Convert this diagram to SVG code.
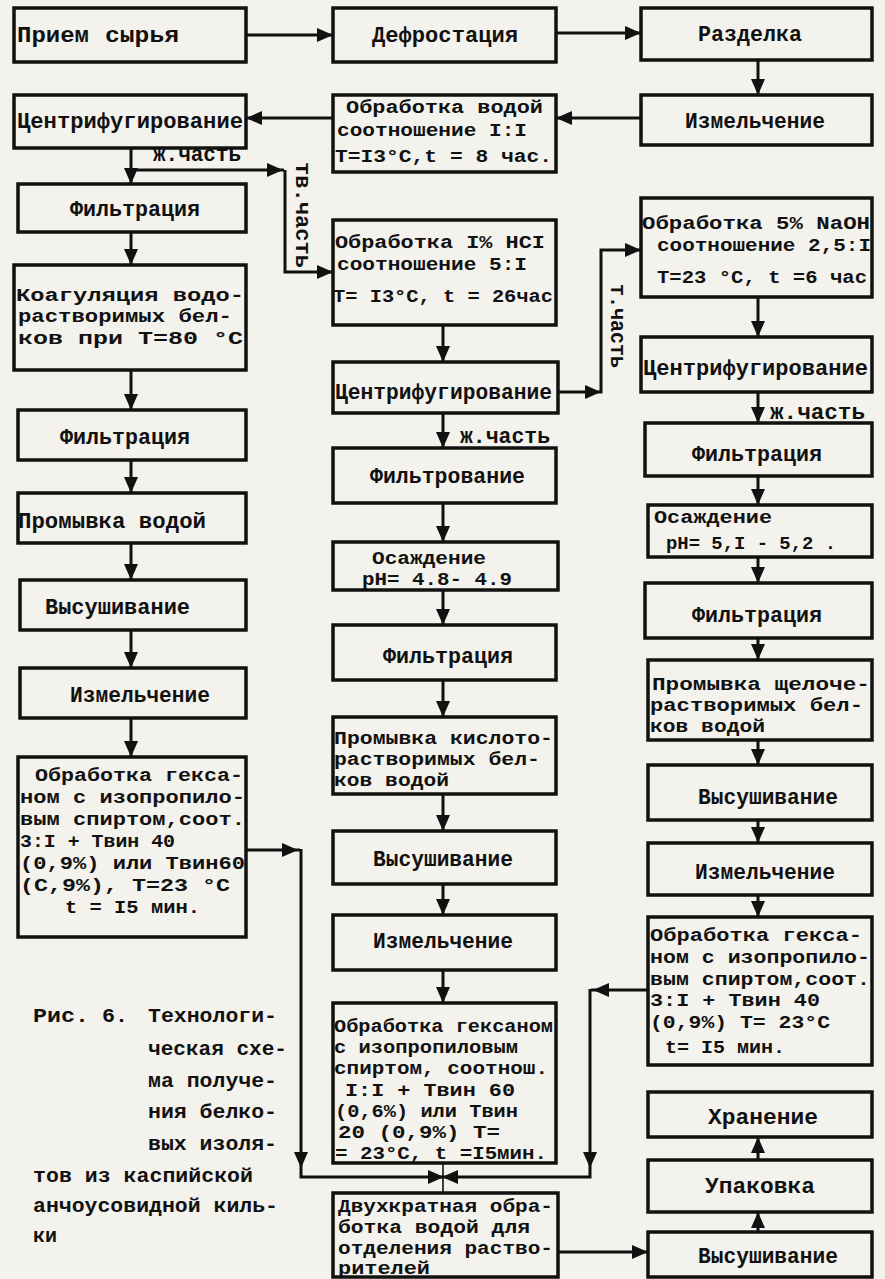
<svg xmlns="http://www.w3.org/2000/svg" xmlns:xlink="http://www.w3.org/1999/xlink" width="885" height="1279" viewBox="0 0 885 1279">
<style>
.bg{fill:#f3f2ed}
.box{fill:#f3f2ed;stroke:#111;stroke-width:3.5}
.ln{fill:none;stroke:#111;stroke-width:3}
.thin{fill:none;stroke:#111;stroke-width:1.6}
.t{font-family:"Liberation Mono","DejaVu Sans Mono",monospace;font-size:22px;font-weight:bold;fill:#111}
.m{font-family:"Liberation Mono","DejaVu Sans Mono",monospace;font-size:19px;font-weight:bold;fill:#111}
.c{font-family:"Liberation Mono","DejaVu Sans Mono",monospace;font-size:21px;font-weight:bold;fill:#111}
</style>
<defs>
<path id="ah" d="M0,0 L-16,-7 L-16,7 Z" fill="#111"/>
</defs>
<rect class="bg" x="0" y="0" width="885" height="1279"/>

<g id="connectors">
<path class="ln" d="M246,35 H333"/><use xlink:href="#ah" transform="translate(333,35)"/>
<path class="ln" d="M556,33 H641"/><use xlink:href="#ah" transform="translate(641,33)"/>
<path class="ln" d="M758,60 V95"/><use xlink:href="#ah" transform="translate(758,95) rotate(90)"/>
<path class="ln" d="M641,118 H556"/><use xlink:href="#ah" transform="translate(556,118) rotate(180)"/>
<path class="ln" d="M333,118 H246"/><use xlink:href="#ah" transform="translate(246,118) rotate(180)"/>
<path class="ln" d="M131,148 V184"/><use xlink:href="#ah" transform="translate(131,184) rotate(90)"/>
<path class="ln" d="M131,170 H284"/><use xlink:href="#ah" transform="translate(283,170)"/>
<path class="ln" d="M285,170 V272 H333"/><use xlink:href="#ah" transform="translate(333,272)"/>
<path class="ln" d="M131,232 V265"/><use xlink:href="#ah" transform="translate(131,265) rotate(90)"/>
<path class="ln" d="M131,370 V410"/><use xlink:href="#ah" transform="translate(131,410) rotate(90)"/>
<path class="ln" d="M131,460 V493"/><use xlink:href="#ah" transform="translate(131,493) rotate(90)"/>
<path class="ln" d="M131,543 V580"/><use xlink:href="#ah" transform="translate(131,580) rotate(90)"/>
<path class="ln" d="M131,630 V668"/><use xlink:href="#ah" transform="translate(131,668) rotate(90)"/>
<path class="ln" d="M131,718 V757"/><use xlink:href="#ah" transform="translate(131,757) rotate(90)"/>
<path class="ln" d="M246,850 H300"/><use xlink:href="#ah" transform="translate(298,850)"/>
<path class="ln" d="M301,849 V1177 H590 V989"/>
<use xlink:href="#ah" transform="translate(301,1168) rotate(90)"/>
<use xlink:href="#ah" transform="translate(590,1168) rotate(90)"/>
<path class="ln" d="M648,990 H591"/><use xlink:href="#ah" transform="translate(593,990) rotate(180)"/>
<path class="thin" d="M443,1163 V1193"/>
<use xlink:href="#ah" transform="translate(444,1177)"/>
<use xlink:href="#ah" transform="translate(442,1177) rotate(180)"/>
<path class="ln" d="M443,325 V362"/><use xlink:href="#ah" transform="translate(443,362) rotate(90)"/>
<path class="ln" d="M443,413 V448"/><use xlink:href="#ah" transform="translate(443,448) rotate(90)"/>
<path class="ln" d="M443,503 V542"/><use xlink:href="#ah" transform="translate(443,542) rotate(90)"/>
<path class="ln" d="M443,590 V625"/><use xlink:href="#ah" transform="translate(443,625) rotate(90)"/>
<path class="ln" d="M443,680 V717"/><use xlink:href="#ah" transform="translate(443,717) rotate(90)"/>
<path class="ln" d="M443,794 V831"/><use xlink:href="#ah" transform="translate(443,831) rotate(90)"/>
<path class="ln" d="M443,884 V915"/><use xlink:href="#ah" transform="translate(443,915) rotate(90)"/>
<path class="ln" d="M443,970 V1003"/><use xlink:href="#ah" transform="translate(443,1003) rotate(90)"/>
<path class="ln" d="M558,392 H601 V250 H641"/>
<use xlink:href="#ah" transform="translate(601,392)"/>
<use xlink:href="#ah" transform="translate(641,250)"/>
<path class="ln" d="M558,1252 H648"/><use xlink:href="#ah" transform="translate(648,1252)"/>
<path class="ln" d="M758,297 V337"/><use xlink:href="#ah" transform="translate(758,337) rotate(90)"/>
<path class="ln" d="M758,392 V423"/><use xlink:href="#ah" transform="translate(758,423) rotate(90)"/>
<path class="ln" d="M758,476 V505"/><use xlink:href="#ah" transform="translate(758,505) rotate(90)"/>
<path class="ln" d="M758,557 V583"/><use xlink:href="#ah" transform="translate(758,583) rotate(90)"/>
<path class="ln" d="M758,638 V660"/><use xlink:href="#ah" transform="translate(758,660) rotate(90)"/>
<path class="ln" d="M758,740 V765"/><use xlink:href="#ah" transform="translate(758,765) rotate(90)"/>
<path class="ln" d="M758,820 V843"/><use xlink:href="#ah" transform="translate(758,843) rotate(90)"/>
<path class="ln" d="M758,895 V917"/><use xlink:href="#ah" transform="translate(758,917) rotate(90)"/>
<path class="ln" d="M758,1232 V1212"/><use xlink:href="#ah" transform="translate(758,1212) rotate(-90)"/>
<path class="ln" d="M758,1160 V1137"/><use xlink:href="#ah" transform="translate(758,1137) rotate(-90)"/>
<text class="t" x="153" y="161" textLength="88" lengthAdjust="spacingAndGlyphs">ж.часть</text>
<text class="t" transform="translate(296,215) rotate(90)" text-anchor="middle" textLength="106" lengthAdjust="spacingAndGlyphs">тв.часть</text>
<text class="t" transform="translate(611,326) rotate(90)" text-anchor="middle" textLength="84" lengthAdjust="spacingAndGlyphs">т.часть</text>
<text class="t" x="460" y="443" textLength="90" lengthAdjust="spacingAndGlyphs">ж.часть</text>
<text class="t" x="770" y="419" textLength="95" lengthAdjust="spacingAndGlyphs">ж.часть</text>
</g>

<g id="n-priem"><rect class="box" x="14" y="8" width="232" height="54"/>
<text class="t" x="17" y="42" textLength="72" lengthAdjust="spacingAndGlyphs">Прием</text>
<text class="t" x="105" y="42" textLength="74" lengthAdjust="spacingAndGlyphs">сырья</text></g>
<g id="n-centr1"><rect class="box" x="14" y="95" width="232" height="53"/>
<text class="t" x="17" y="128" textLength="226" lengthAdjust="spacingAndGlyphs">Центрифугирование</text></g>
<g id="n-filtr1"><rect class="box" x="18" y="184" width="228" height="48"/>
<text class="t" x="70" y="216" textLength="130" lengthAdjust="spacingAndGlyphs">Фильтрация</text></g>
<g id="n-koag"><rect class="box" x="14" y="265" width="232" height="105"/>
<text class="m" x="16" y="301" textLength="228" lengthAdjust="spacingAndGlyphs">Коагуляция водо-</text>
<text class="m" x="18" y="322" textLength="214" lengthAdjust="spacingAndGlyphs">растворимых бел-</text>
<text class="m" x="18" y="344" textLength="225" lengthAdjust="spacingAndGlyphs">ков при T=80 °C</text></g>
<g id="n-filtr2"><rect class="box" x="18" y="410" width="228" height="50"/>
<text class="t" x="60" y="444" textLength="130" lengthAdjust="spacingAndGlyphs">Фильтрация</text></g>
<g id="n-prom1"><rect class="box" x="18" y="493" width="228" height="50"/>
<text class="t" x="18" y="528" textLength="188" lengthAdjust="spacingAndGlyphs">Промывка водой</text></g>
<g id="n-sush1"><rect class="box" x="20" y="580" width="226" height="50"/>
<text class="t" x="45" y="614" textLength="145" lengthAdjust="spacingAndGlyphs">Высушивание</text></g>
<g id="n-izm1"><rect class="box" x="20" y="668" width="226" height="50"/>
<text class="t" x="70" y="702" textLength="140" lengthAdjust="spacingAndGlyphs">Измельчение</text></g>
<g id="n-hex1"><rect class="box" x="18" y="757" width="228" height="180"/>
<text class="m" x="35" y="781" textLength="208" lengthAdjust="spacingAndGlyphs">Обработка гекса-</text>
<text class="m" x="20" y="803" textLength="225" lengthAdjust="spacingAndGlyphs">ном с изопропило-</text>
<text class="m" x="20" y="825" textLength="225" lengthAdjust="spacingAndGlyphs">вым спиртом,соот.</text>
<text class="m" x="20" y="847" textLength="155" lengthAdjust="spacingAndGlyphs">3:I + Твин 40</text>
<text class="m" x="20" y="869" textLength="225" lengthAdjust="spacingAndGlyphs">(0,9%) или Твин60</text>
<text class="m" x="20" y="891" textLength="210" lengthAdjust="spacingAndGlyphs">(C,9%),  T=23 °C</text>
<text class="m" x="65" y="913" textLength="135" lengthAdjust="spacingAndGlyphs">t = I5 мин.</text></g>

<g id="n-defrost"><rect class="box" x="333" y="8" width="223" height="54"/>
<text class="t" x="372" y="42" textLength="146" lengthAdjust="spacingAndGlyphs">Дефростация</text></g>
<g id="n-water"><rect class="box" x="333" y="95" width="223" height="77"/>
<text class="m" x="346" y="113" textLength="197" lengthAdjust="spacingAndGlyphs">Обработка водой</text>
<text class="m" x="337" y="136" textLength="190" lengthAdjust="spacingAndGlyphs">соотношение I:I</text>
<text class="m" x="335" y="162" textLength="217" lengthAdjust="spacingAndGlyphs">T=I3°C,t = 8 час.</text></g>
<g id="n-hcl"><rect class="box" x="333" y="220" width="223" height="105"/>
<text class="m" x="335" y="248" textLength="210" lengthAdjust="spacingAndGlyphs">Обработка I% HCI</text>
<text class="m" x="337" y="270" textLength="190" lengthAdjust="spacingAndGlyphs">соотношение 5:I</text>
<text class="m" x="333" y="302" textLength="220" lengthAdjust="spacingAndGlyphs">T= I3°C, t = 26час</text></g>
<g id="n-centr2"><rect class="box" x="333" y="362" width="225" height="51"/>
<text class="t" x="335" y="399" textLength="217" lengthAdjust="spacingAndGlyphs">Центрифугирование</text></g>
<g id="n-filtrov"><rect class="box" x="333" y="448" width="223" height="55"/>
<text class="t" x="370" y="483" textLength="155" lengthAdjust="spacingAndGlyphs">Фильтрование</text></g>
<g id="n-osazh2"><rect class="box" x="333" y="542" width="225" height="48"/>
<text class="m" x="372" y="564" textLength="114" lengthAdjust="spacingAndGlyphs">Осаждение</text>
<text class="m" x="362" y="585" textLength="150" lengthAdjust="spacingAndGlyphs">pH= 4.8- 4.9</text></g>
<g id="n-filtr3"><rect class="box" x="333" y="625" width="223" height="55"/>
<text class="t" x="383" y="663" textLength="130" lengthAdjust="spacingAndGlyphs">Фильтрация</text></g>
<g id="n-prom2"><rect class="box" x="333" y="717" width="223" height="77"/>
<text class="m" x="334" y="744" textLength="219" lengthAdjust="spacingAndGlyphs">Промывка кислото-</text>
<text class="m" x="334" y="765" textLength="206" lengthAdjust="spacingAndGlyphs">растворимых бел-</text>
<text class="m" x="334" y="786" textLength="115" lengthAdjust="spacingAndGlyphs">ков водой</text></g>
<g id="n-sush2"><rect class="box" x="333" y="831" width="223" height="53"/>
<text class="t" x="373" y="866" textLength="140" lengthAdjust="spacingAndGlyphs">Высушивание</text></g>
<g id="n-izm2"><rect class="box" x="333" y="915" width="223" height="55"/>
<text class="t" x="373" y="948" textLength="140" lengthAdjust="spacingAndGlyphs">Измельчение</text></g>
<g id="n-hex2"><rect class="box" x="333" y="1003" width="223" height="160"/>
<text class="m" x="334" y="1032" textLength="219" lengthAdjust="spacingAndGlyphs">Обработка гексаном</text>
<text class="m" x="334" y="1053" textLength="184" lengthAdjust="spacingAndGlyphs">с изопропиловым</text>
<text class="m" x="334" y="1074" textLength="214" lengthAdjust="spacingAndGlyphs">спиртом, соотнош.</text>
<text class="m" x="345" y="1096" textLength="170" lengthAdjust="spacingAndGlyphs">I:I + Твин 60</text>
<text class="m" x="335" y="1117" textLength="183" lengthAdjust="spacingAndGlyphs">(0,6%) или Твин</text>
<text class="m" x="338" y="1138" textLength="162" lengthAdjust="spacingAndGlyphs">20 (0,9%)  T=</text>
<text class="m" x="335" y="1159" textLength="212" lengthAdjust="spacingAndGlyphs">= 23°C, t =I5мин.</text></g>
<g id="n-dvuh"><rect class="box" x="333" y="1193" width="225" height="84"/>
<text class="m" x="338" y="1212" textLength="215" lengthAdjust="spacingAndGlyphs">Двухкратная обра-</text>
<text class="m" x="338" y="1233" textLength="192" lengthAdjust="spacingAndGlyphs">ботка водой для</text>
<text class="m" x="338" y="1254" textLength="215" lengthAdjust="spacingAndGlyphs">отделения раство-</text>
<text class="m" x="338" y="1274" textLength="92" lengthAdjust="spacingAndGlyphs">рителей</text></g>

<g id="n-razdel"><rect class="box" x="641" y="8" width="231" height="52"/>
<text class="t" x="698" y="41" textLength="104" lengthAdjust="spacingAndGlyphs">Разделка</text></g>
<g id="n-izm0"><rect class="box" x="641" y="95" width="231" height="50"/>
<text class="t" x="685" y="128" textLength="140" lengthAdjust="spacingAndGlyphs">Измельчение</text></g>
<g id="n-naoh"><rect class="box" x="641" y="198" width="231" height="99"/>
<text class="m" x="642" y="229" textLength="228" lengthAdjust="spacingAndGlyphs">Обработка 5% NaOH</text>
<text class="m" x="657" y="251" textLength="214" lengthAdjust="spacingAndGlyphs">соотношение 2,5:I</text>
<text class="m" x="657" y="283" textLength="210" lengthAdjust="spacingAndGlyphs">T=23 °C, t =6 час</text></g>
<g id="n-centr3"><rect class="box" x="641" y="337" width="231" height="55"/>
<text class="t" x="643" y="375" textLength="225" lengthAdjust="spacingAndGlyphs">Центрифугирование</text></g>
<g id="n-filtr4"><rect class="box" x="645" y="423" width="227" height="53"/>
<text class="t" x="692" y="461" textLength="130" lengthAdjust="spacingAndGlyphs">Фильтрация</text></g>
<g id="n-osazh3"><rect class="box" x="648" y="505" width="224" height="52"/>
<text class="m" x="654" y="523" textLength="118" lengthAdjust="spacingAndGlyphs">Осаждение</text>
<text class="m" x="666" y="549" textLength="170" lengthAdjust="spacingAndGlyphs">pH= 5,I - 5,2 .</text></g>
<g id="n-filtr5"><rect class="box" x="645" y="583" width="227" height="55"/>
<text class="t" x="692" y="622" textLength="130" lengthAdjust="spacingAndGlyphs">Фильтрация</text></g>
<g id="n-prom3"><rect class="box" x="648" y="660" width="224" height="80"/>
<text class="m" x="652" y="690" textLength="218" lengthAdjust="spacingAndGlyphs">Промывка щелоче-</text>
<text class="m" x="650" y="711" textLength="213" lengthAdjust="spacingAndGlyphs">растворимых бел-</text>
<text class="m" x="650" y="732" textLength="115" lengthAdjust="spacingAndGlyphs">ков водой</text></g>
<g id="n-sush3"><rect class="box" x="648" y="765" width="224" height="55"/>
<text class="t" x="698" y="804" textLength="140" lengthAdjust="spacingAndGlyphs">Высушивание</text></g>
<g id="n-izm3"><rect class="box" x="648" y="843" width="224" height="52"/>
<text class="t" x="695" y="879" textLength="140" lengthAdjust="spacingAndGlyphs">Измельчение</text></g>
<g id="n-hex3"><rect class="box" x="648" y="917" width="224" height="148"/>
<text class="m" x="650" y="941" textLength="212" lengthAdjust="spacingAndGlyphs">Обработка гекса-</text>
<text class="m" x="650" y="963" textLength="220" lengthAdjust="spacingAndGlyphs">ном с изопропило-</text>
<text class="m" x="650" y="985" textLength="220" lengthAdjust="spacingAndGlyphs">вым спиртом,соот.</text>
<text class="m" x="650" y="1006" textLength="170" lengthAdjust="spacingAndGlyphs">3:I + Твин 40</text>
<text class="m" x="650" y="1028" textLength="180" lengthAdjust="spacingAndGlyphs">(0,9%) T= 23°C</text>
<text class="m" x="665" y="1053" textLength="120" lengthAdjust="spacingAndGlyphs">t= I5 мин.</text></g>
<g id="n-hran"><rect class="box" x="648" y="1092" width="224" height="45"/>
<text class="t" x="708" y="1124" textLength="110" lengthAdjust="spacingAndGlyphs">Хранение</text></g>
<g id="n-upak"><rect class="box" x="648" y="1160" width="224" height="52"/>
<text class="t" x="705" y="1193" textLength="110" lengthAdjust="spacingAndGlyphs">Упаковка</text></g>
<g id="n-sush4"><rect class="box" x="648" y="1232" width="224" height="45"/>
<text class="t" x="698" y="1263" textLength="140" lengthAdjust="spacingAndGlyphs">Высушивание</text></g>

<g id="caption">
<text class="c" x="33" y="1022" textLength="56" lengthAdjust="spacingAndGlyphs">Рис.</text>
<text class="c" x="102" y="1022" textLength="26" lengthAdjust="spacingAndGlyphs">6.</text>
<text class="c" x="148" y="1022" textLength="129" lengthAdjust="spacingAndGlyphs">Технологи-</text>
<text class="c" x="148" y="1055" textLength="139" lengthAdjust="spacingAndGlyphs">ческая схе-</text>
<text class="c" x="148" y="1087" textLength="129" lengthAdjust="spacingAndGlyphs">ма получе-</text>
<text class="c" x="148" y="1118" textLength="129" lengthAdjust="spacingAndGlyphs">ния белко-</text>
<text class="c" x="148" y="1150" textLength="129" lengthAdjust="spacingAndGlyphs">вых изоля-</text>
<text class="c" x="33" y="1182" textLength="220" lengthAdjust="spacingAndGlyphs">тов из каспийской</text>
<text class="c" x="33" y="1212" textLength="245" lengthAdjust="spacingAndGlyphs">анчоусовидной киль-</text>
<text class="c" x="33" y="1242" textLength="24" lengthAdjust="spacingAndGlyphs">ки</text>
</g>
</svg>
